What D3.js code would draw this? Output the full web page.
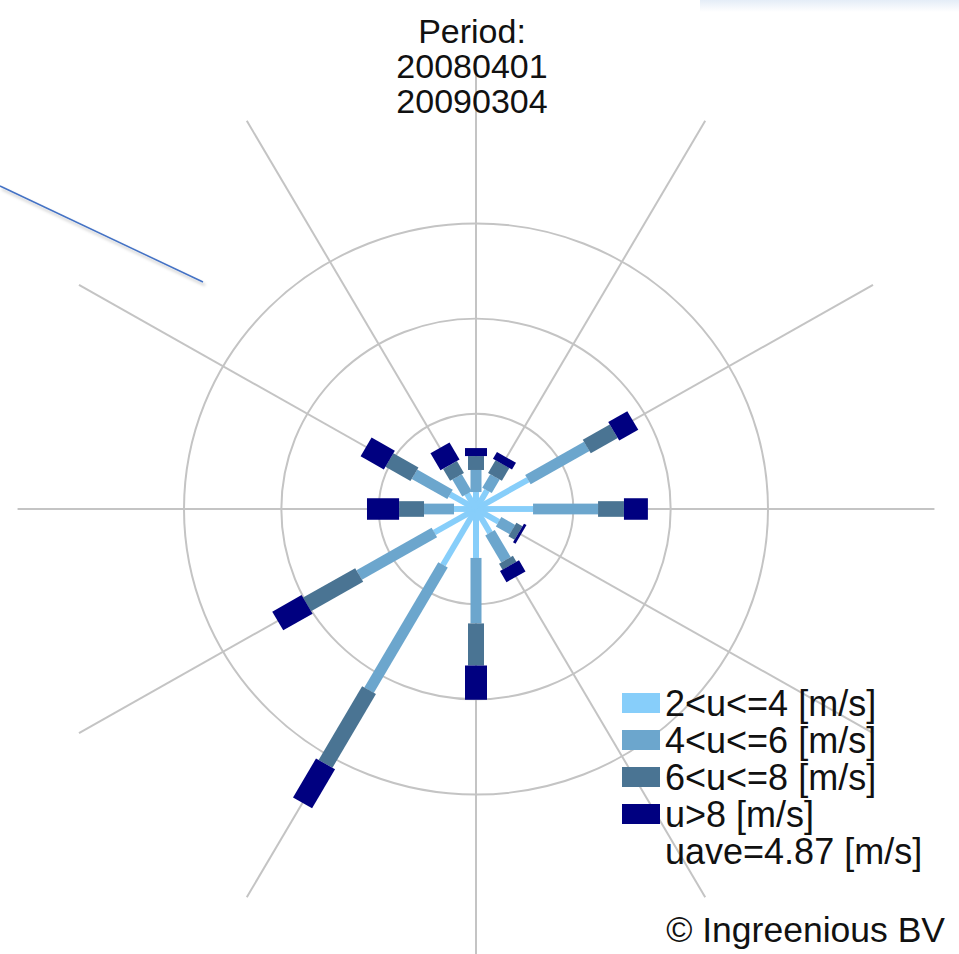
<!DOCTYPE html>
<html>
<head>
<meta charset="utf-8">
<script src="https://cdn.jsdelivr.net/npm/d3@7"></script>
<style>
  body { margin: 0; background: #fff; }
  svg { display: block; font-family: "Liberation Sans", Arial, sans-serif; }
</style>
</head>
<body>
<script>
// wind directions (compass degrees) and frequency [%] per speed class
const directions = ["N", "NNE", "ENE", "E", "ESE", "SSE", "S", "SSW", "WSW", "W", "WNW", "NNW"];
const angles = [0, 30, 60, 90, 120, 150, 180, 210, 240, 270, 300, 330];

const u2to4 = [0.89, 1.13, 3.08, 2.93, 1.34, 1.44, 2.57, 3.39, 2.47, 1.13, 1.54, 0.92];
const u4to6 = [1.16, 0.82, 3.49, 3.34, 0.82, 1.64, 3.44, 7.60, 4.46, 1.54, 2.11, 1.03];
const u6to8 = [0.73, 0.77, 1.60, 1.33, 0.36, 0.36, 2.21, 4.47, 3.09, 1.28, 1.49, 0.72];
const u8up  = [0.42, 0.41, 1.13, 1.23, 0.15, 0.67, 1.80, 2.36, 1.74, 1.65, 1.38, 1.03];

const classKeys = ["u2to4", "u4to6", "u6to8", "u8up"];
const classLabels = ["2<u<=4 [m/s]", "4<u<=6 [m/s]", "6<u<=8 [m/s]", "u>8 [m/s]"];
const ringValues = [5, 10, 15];
const titleLines = ["Period:", "20080401", "20090304"];
const uaveLabel = "uave=4.87 [m/s]";
const creditLabel = "\u00A9 Ingreenious BV";

const classColors = ["#87cefa", "#6ca6cd", "#4a7493", "#000080"];
const classWidths = [6, 11, 16, 22];

const width = 959, height = 954;
const cx = 476, cy = 509;

const svg = d3.select("body").append("svg")
  .attr("width", width)
  .attr("height", height);

// faint tint in the top right corner of the screenshot
const defs = svg.append("defs");
const grad = defs.append("linearGradient").attr("id", "tint").attr("x1", 0).attr("x2", 0).attr("y1", 0).attr("y2", 1);
grad.append("stop").attr("offset", 0).attr("stop-color", "#e4edf7");
grad.append("stop").attr("offset", 1).attr("stop-color", "#ffffff");
svg.append("rect").attr("x", 700).attr("y", 0).attr("width", 259).attr("height", 12).attr("fill", "url(#tint)");

const shadow = defs.append("filter").attr("id", "shadow").attr("x", -0.1).attr("y", -0.1).attr("width", 1.3).attr("height", 1.5);
shadow.append("feDropShadow").attr("dx", 2).attr("dy", 3).attr("stdDeviation", 1.5).attr("flood-color", "#000").attr("flood-opacity", 0.25);

let r = d3.scaleLinear().domain([0, 15]).range([0, 292]);

let rose = svg.append("g")
  .attr("transform", `translate(${cx},${cy}) scale(1,0.978)`);

// grid rings and spokes
rose.append("g").selectAll("circle")
  .data(ringValues)
  .join("circle")
  .attr("r", d => r(d))
  .attr("fill", "none")
  .attr("stroke", "#c4c4c4")
  .attr("stroke-width", 2);

rose.append("g").selectAll("line")
  .data(angles)
  .join("line")
  .attr("transform", d => `rotate(${d})`)
  .attr("x1", 0).attr("y1", 0)
  .attr("x2", 0).attr("y2", -r(23.55))
  .attr("stroke", "#c4c4c4")
  .attr("stroke-width", 2);

// stacked speed classes along each direction
let rows = directions.map((d, i) => ({
  dir: d,
  angle: angles[i],
  u2to4: u2to4[i],
  u4to6: u4to6[i],
  u6to8: u6to8[i],
  u8up: u8up[i]
}));

let series = d3.stack().keys(classKeys)(rows);

rose.append("g").selectAll("g")
  .data(series)
  .join("g")
  .attr("fill", (s, k) => classColors[k])
  .each(function (s, k) {
    d3.select(this).selectAll("rect")
      .data(s)
      .join("rect")
      .attr("transform", d => `rotate(${d.data.angle})`)
      .attr("x", -classWidths[k] / 2)
      .attr("width", classWidths[k])
      .attr("y", d => -r(d[1]))
      .attr("height", d => r(d[1]) - r(d[0]));
  });

// title
svg.append("g").selectAll("text")
  .data(titleLines)
  .join("text")
  .attr("x", 472)
  .attr("y", (d, i) => 43 + i * 35)
  .attr("text-anchor", "middle")
  .attr("font-size", 34)
  .attr("fill", "#111")
  .text(d => d);

// legend
let legend = svg.append("g").attr("transform", "translate(622,703)");
let items = legend.selectAll("g")
  .data(classLabels)
  .join("g")
  .attr("transform", (d, i) => `translate(0,${i * 37})`);

items.append("rect")
  .attr("x", 0).attr("y", -10)
  .attr("width", 38).attr("height", 20)
  .attr("fill", (d, i) => classColors[i]);

items.append("text")
  .attr("x", 43)
  .attr("y", 0)
  .attr("dy", "0.35em")
  .attr("font-size", 36)
  .attr("fill", "#111")
  .text(d => d);

legend.append("text")
  .attr("x", 43)
  .attr("y", 4 * 37)
  .attr("dy", "0.35em")
  .attr("font-size", 36)
  .attr("fill", "#111")
  .text(uaveLabel);

svg.append("text")
  .attr("x", 945)
  .attr("y", 930)
  .attr("dy", "0.35em")
  .attr("text-anchor", "end")
  .attr("font-size", 35.5)
  .attr("fill", "#111")
  .text(creditLabel);

// blue annotation line at the top left
svg.append("line")
  .attr("x1", 0).attr("y1", 186)
  .attr("x2", 203).attr("y2", 282)
  .attr("stroke", "#4472c4")
  .attr("stroke-width", 1.5)
  .attr("filter", "url(#shadow)");
</script>
</body>
</html>
